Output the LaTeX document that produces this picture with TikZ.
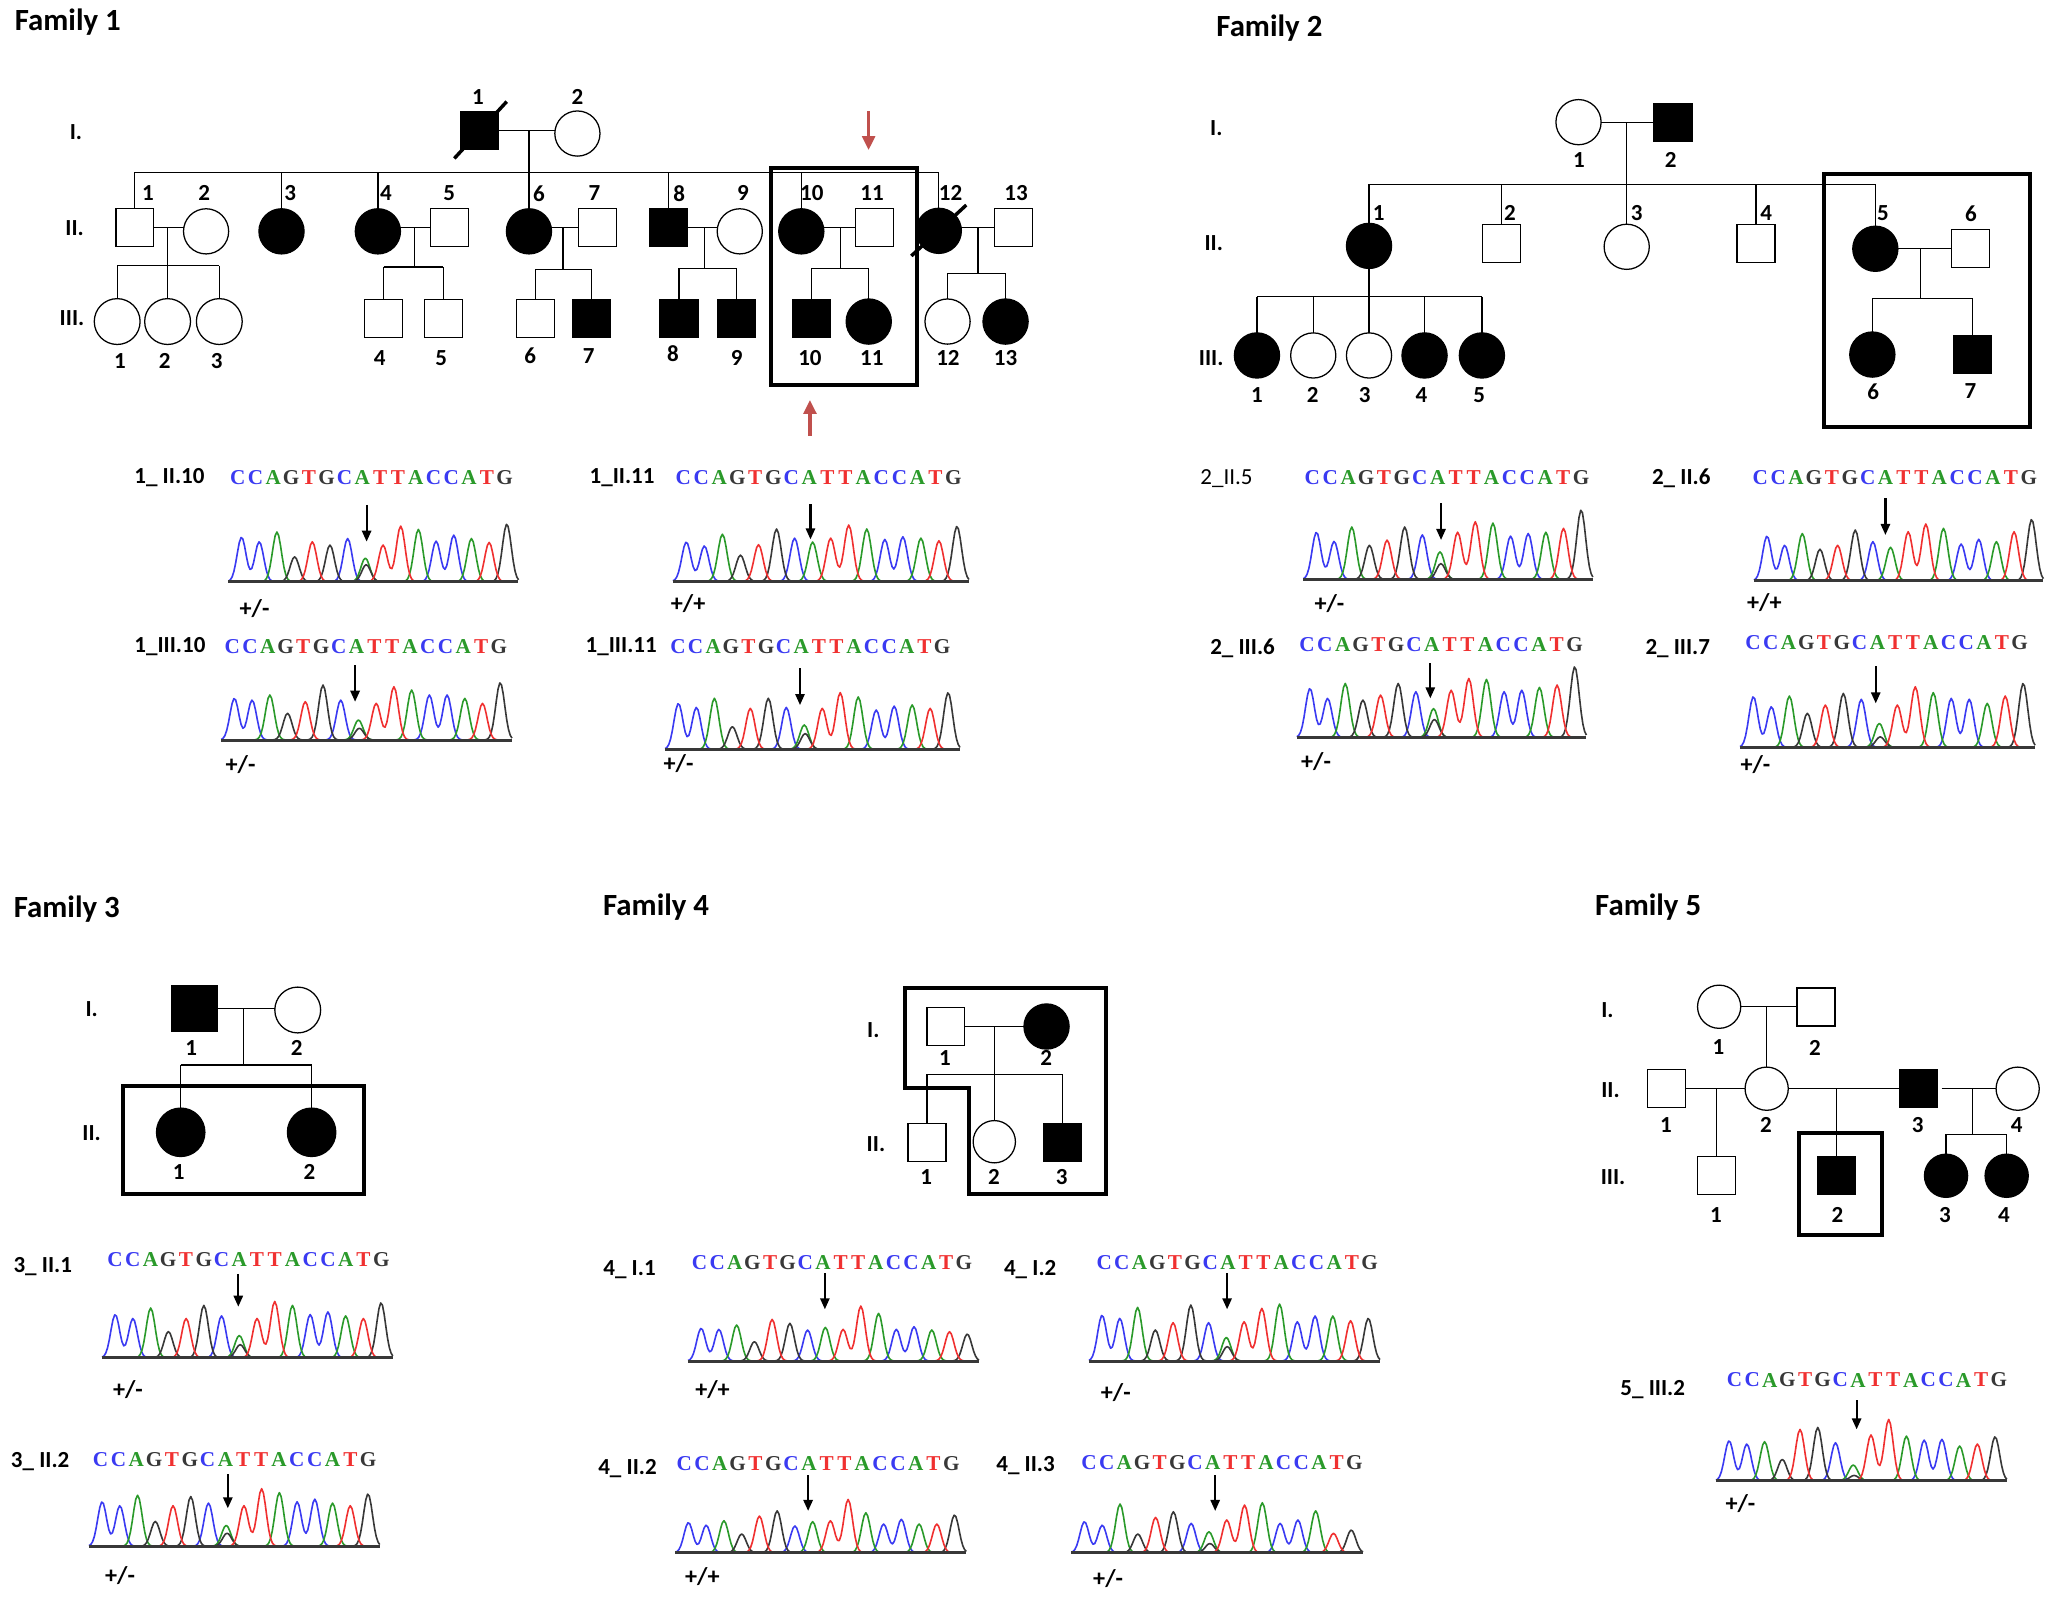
\documentclass[tikz,border=0pt]{standalone}
\usepackage{fontspec}
\setmainfont{Carlito}
\newfontfamily\seqfont{Liberation Serif}
\usetikzlibrary{arrows.meta}
\definecolor{trC}{HTML}{3A3AF2}
\definecolor{trA}{HTML}{2A9A2A}
\definecolor{trG}{HTML}{383838}
\definecolor{trT}{HTML}{F03030}
\definecolor{redmk}{HTML}{C0504D}
\def\upx{0.02cm}
\tikzset{
  declare function={g(\t)=exp(-7.8*\t*\t);},
  ped/.style={draw=black, line width=0.55pt, inner sep=0pt, outer sep=0pt},
  male/.style={ped, rectangle, minimum size=29*\upx, fill=white},
  female/.style={ped, circle, minimum size=34.5*\upx, fill=white},
  aff/.style={fill=black},
  relline/.style={line width=0.55pt},
  famlabel/.style={font=\bfseries\fontsize{13.4}{14}\selectfont, anchor=west, inner sep=0pt},
  genlabel/.style={font=\bfseries\fontsize{10}{10}\selectfont, inner sep=0pt},
  num/.style={font=\bfseries\fontsize{10}{10}\selectfont, inner sep=0pt},
  hlbox/.style={line width=1.7pt},
  smplabel/.style={font=\bfseries\fontsize{10}{10}\selectfont, anchor=west, inner sep=0pt},
  smpthin/.style={font=\fontsize{10}{10}\selectfont, anchor=west, inner sep=0pt},
  geno/.style={font=\bfseries\fontsize{10.5}{10}\selectfont, anchor=west, inner sep=0pt},
  seqletter/.style={font=\seqfont\bfseries\fontsize{9.2}{9}\selectfont, inner sep=0pt},
  mutarrow/.style={line width=0.95pt, -{Triangle[length=4.8pt,width=4pt]}},
  redmark/.style={line width=1.4pt, draw=redmk, -{Triangle[length=6pt,width=5.5pt]}},
  deceased/.style={line width=1.5pt},
  trc/.style={line width=0.7pt, line join=round},
  basel/.style={line width=1.3pt, draw=trG},
}
\newcommand\setpeaks[2]{%
  \def\harr{{#1}}%
  \foreach \k/\nm in {0/A,1/B,2/C,3/D,4/E,5/F,6/G,7/H,8/I,9/J,10/K,11/L,12/M,13/N,14/O,15/P}{%
    \pgfmathparse{\harr[\k]}%
    \expandafter\xdef\csname chr\nm\endcsname{\pgfmathresult}}%
  \xdef\chrX{#2}}
\newcommand\chromat[3]{%
  \pgfmathsetmacro\chP{(#2-(#1))/16.4}%
  \pgfmathsetmacro\chO{#1+0.74*\chP}%
  \def\chY{#3}%
  \draw[trc,trC] plot[domain=-0.74:1.9,samples=27] ({\chO+\x*\chP},{\chY-\chrA*g(\x)-\chrB*g(\x-1)});
  \draw[trc,trC] plot[domain=5:7,samples=21] ({\chO+\x*\chP},{\chY-\chrG*g(\x-6)});
  \draw[trc,trC] plot[domain=10:13.1,samples=32] ({\chO+\x*\chP},{\chY-\chrL*g(\x-11)-\chrM*g(\x-12)});
  \draw[trc,trA] plot[domain=1:3,samples=21] ({\chO+\x*\chP},{\chY-\chrC*g(\x-2)});
  \draw[trc,trA] plot[domain=6:8,samples=21] ({\chO+\x*\chP},{\chY-\chrH*g(\x-7)});
  \draw[trc,trA] plot[domain=9:11,samples=21] ({\chO+\x*\chP},{\chY-\chrK*g(\x-10)});
  \draw[trc,trA] plot[domain=12:14,samples=21] ({\chO+\x*\chP},{\chY-\chrN*g(\x-13)});
  \draw[trc,trG] plot[domain=2:4,samples=21] ({\chO+\x*\chP},{\chY-\chrD*g(\x-3)});
  \draw[trc,trG] plot[domain=4:6,samples=21] ({\chO+\x*\chP},{\chY-\chrF*g(\x-5)});
  \draw[trc,trG] plot[domain=6.05:8.05,samples=21] ({\chO+\x*\chP},{\chY-\chrX*g(\x-7.05)});
  \draw[trc,trG] plot[domain=14:15.66,samples=18] ({\chO+\x*\chP},{\chY-\chrP*g(\x-15)});
  \draw[trc,trT] plot[domain=3:5,samples=21] ({\chO+\x*\chP},{\chY-\chrE*g(\x-4)});
  \draw[trc,trT] plot[domain=7:10,samples=31] ({\chO+\x*\chP},{\chY-\chrI*g(\x-8)-\chrJ*g(\x-9)});
  \draw[trc,trT] plot[domain=13:15,samples=21] ({\chO+\x*\chP},{\chY-\chrO*g(\x-14)});
  \draw[basel] (#1,#3) -- (#2,#3);
}
\newcommand\seqtext[4]{%
  \foreach \bs [count=\i from 0] in {C,C,A,G,T,G,C,A,T,T,A,C,C,A,T,G}{%
    \node[seqletter, text=tr\bs] (#1s\i) at ({#2+4.8+\i*(#3-#2-9.6)/15},#4) {\bs};}}
\newcommand\mutarr[4]{%
  \coordinate (#1a) at (#2,#3); \coordinate (#1b) at (#2,#4);
  \draw[mutarrow] (#1a) -- (#1b);}
\begin{document}
\begin{tikzpicture}[x=0.02cm,y=-0.02cm]
\fill[white] (0,0) rectangle (1568,1219);
\useasboundingbox (0,0) rectangle (1568,1219);

% ================= FAMILY 1 =================
\node[famlabel] (f1) at (11,17) {Family 1};
\node[genlabel] (f1gI) at (58,101) {I.};
\node[genlabel] (f1gII) at (57,174) {II.};
\node[genlabel] (f1gIII) at (55,243) {III.};
\node[male,aff] (f1I1) at (366.5,99.6) {};
\node[female] (f1I2) at (441,102) {};
\node[num] (f1I1n) at (365,74) {1};
\node[num] (f1I2n) at (441,74) {2};
\draw[relline] (f1I1.east) -- (f1I1.east -| f1I2.west);
\coordinate (f1m1) at (404,99.6);
\coordinate (f1s1) at (404,131.5);
\draw[relline] (f1m1) -- (f1s1);
\node[male] (f1II1) at (103,173.7) {};
\node[female] (f1II2) at (157.4,176.7) {};
\node[female,aff] (f1II3) at (215,176.7) {};
\node[female,aff] (f1II4) at (288.6,176.7) {};
\node[male] (f1II5) at (343.4,173.7) {};
\node[female,aff] (f1II6) at (404,176.7) {};
\node[male] (f1II7) at (456.5,173.7) {};
\node[male,aff] (f1II8) at (510.5,173.7) {};
\node[female] (f1II9) at (565,176.7) {};
\node[female,aff] (f1II10) at (612,176.7) {};
\node[male] (f1II11) at (668,173.7) {};
\node[female,aff] (f1II12) at (717,176.3) {};
\node[male] (f1II13) at (774,173.7) {};
\foreach \n/\xx in {1/113,2/156,3/221.6,4/294.7,5/343,6/411.6,7/454,8/518.7,9/567.5,10/620,11/666,12/726,13/776}
  {\node[num] (f1IIn\n) at (\xx,147.6) {\n};}
\draw[relline] (f1II1.north |- f1s1) -- (f1II12.north |- f1s1);
\foreach \c in {f1II1,f1II3,f1II4,f1II6,f1II8,f1II10,f1II12}
  {\draw[relline] (\c.north |- f1s1) -- (\c.north);}
\draw[relline] (f1II1.east) -- (f1II1.east -| f1II2.west);
\draw[relline] (f1II5.west -| f1II4.east) -- (f1II5.west);
\draw[relline] (f1II7.west -| f1II6.east) -- (f1II7.west);
\draw[relline] (f1II8.east) -- (f1II8.east -| f1II9.west);
\draw[relline] (f1II11.west -| f1II10.east) -- (f1II11.west);
\draw[relline] (f1II13.west -| f1II12.east) -- (f1II13.west);
% III row
\node[female,minimum size=35*\upx] (f1III1) at (89.5,245.6) {};
\node[female,minimum size=35*\upx] (f1III2) at (128,245.6) {};
\node[female,minimum size=35*\upx] (f1III3) at (167.5,245.6) {};
\node[male] (f1III4) at (293,243) {};
\node[male] (f1III5) at (338.6,243) {};
\node[male] (f1III6) at (409,243) {};
\node[male,aff] (f1III7) at (451.5,243) {};
\node[male,aff] (f1III8) at (518.6,243) {};
\node[male,aff] (f1III9) at (562.6,243) {};
\node[male,aff] (f1III10) at (619.6,243) {};
\node[female,aff] (f1III11) at (663.5,245.6) {};
\node[female] (f1III12) at (723.7,245.6) {};
\node[female,aff] (f1III13) at (768,245.6) {};
\foreach \n/\xx/\yy in {1/91.6/276,2/125.7/276,3/165.6/276,4/290/273.7,5/337/273.7,6/405/272,7/449.6/272,8/514/270,9/562.6/273.7,10/618.6/273.7,11/665.8/273.7,12/724/273.6,13/768/273.6}
  {\node[num] (f1IIIn\n) at (\xx,\yy) {\n};}
% sibships
\coordinate (f1m2) at (128,173.7); \coordinate (f1s2) at (128,203);
\draw[relline] (f1m2) -- (f1s2);
\draw[relline] (f1III1.north |- f1s2) -- (f1III3.north |- f1s2);
\foreach \c in {f1III1,f1III2,f1III3}{\draw[relline] (\c.north |- f1s2) -- (\c.north);}
\coordinate (f1m3) at (316.6,173.7); \coordinate (f1s3) at (316.6,204);
\draw[relline] (f1m3) -- (f1s3);
\draw[relline] (f1III4.north |- f1s3) -- (f1III5.north |- f1s3);
\foreach \c in {f1III4,f1III5}{\draw[relline] (\c.north |- f1s3) -- (\c.north);}
\coordinate (f1m4) at (430,173.7); \coordinate (f1s4) at (430,205.7);
\draw[relline] (f1m4) -- (f1s4);
\draw[relline] (f1III6.north |- f1s4) -- (f1III7.north |- f1s4);
\foreach \c in {f1III6,f1III7}{\draw[relline] (\c.north |- f1s4) -- (\c.north);}
\coordinate (f1m5) at (538,173.7); \coordinate (f1s5) at (538,205);
\draw[relline] (f1m5) -- (f1s5);
\draw[relline] (f1III8.north |- f1s5) -- (f1III9.north |- f1s5);
\foreach \c in {f1III8,f1III9}{\draw[relline] (\c.north |- f1s5) -- (\c.north);}
\coordinate (f1m6) at (642,173.7); \coordinate (f1s6) at (642,205);
\draw[relline] (f1m6) -- (f1s6);
\draw[relline] (f1III10.north |- f1s6) -- (f1III11.north |- f1s6);
\foreach \c in {f1III10,f1III11}{\draw[relline] (\c.north |- f1s6) -- (\c.north);}
\coordinate (f1m7) at (747,173.7); \coordinate (f1s7) at (747,208.8);
\draw[relline] (f1m7) -- (f1s7);
\draw[relline] (f1III12.north |- f1s7) -- (f1III13.north |- f1s7);
\foreach \c in {f1III12,f1III13}{\draw[relline] (\c.north |- f1s7) -- (\c.north);}
% deceased marks
\coordinate (f1d1a) at (347,121); \coordinate (f1d1b) at (387,77.6);
\draw[deceased] (f1d1a) -- (f1d1b);
\coordinate (f1d2a) at (696,195.5); \coordinate (f1d2b) at (738,156.6);
\draw[deceased] (f1d2a) -- (f1d2b);
% box and arrows
\draw[hlbox] (589,128.6) rectangle (700.4,294);
\coordinate (f1ra) at (663.4,85); \coordinate (f1rb) at (663.4,114.6);
\draw[redmark] (f1ra) -- (f1rb);
\coordinate (f1rc) at (618.6,333); \coordinate (f1rd) at (618.6,305.5);
\draw[redmark] (f1rc) -- (f1rd);

% ---- Family 1 chromatograms
\node[smplabel] (c1l) at (102.3,365) {1\_ II.10};
\seqtext{c1}{176.8}{390.2}{365}
\mutarr{c1}{280}{385.7}{413.7}
\setpeaks{34,30.5,38,19,30.5,28,33,18,28,42.5,40,31,35.6,33,30,44}{13}
\chromat{174.5}{396}{444.3}
\node[geno] (c1g) at (182.7,464.6) {+/-};

\node[smplabel] (c2l) at (450,365) {1\_II.11};
\seqtext{c2}{517}{733}{365}
\mutarr{c2}{619}{385}{412}
\setpeaks{30,27,36,20,28,40,33,30,33,43,40,32,34,33,31,42}{0}
\chromat{514}{740}{444}
\node[geno] (c2g) at (512,461) {+/+};

\node[smplabel] (c3l) at (102.3,494) {1\_III.10};
\seqtext{c3}{172.5}{385.8}{494}
\mutarr{c3}{271.2}{508}{536}
\setpeaks{31.8,30.5,34.4,20.4,29.3,42,30.5,15.3,28,40.7,38.2,34.4,34.4,31.8,28,43.8}{9}
\chromat{169}{391}{565.2}
\node[geno] (c3g) at (172,584) {+/-};

\node[smplabel] (c4l) at (447,494) {1\_III.11};
\seqtext{c4}{513}{724.3}{494}
\mutarr{c4}{611}{510.5}{538.5}
\setpeaks{35,32,39,17.3,31.3,39,32,18.6,31.3,43.3,40,30,33,33.9,31.3,43.3}{12}
\chromat{508}{733.2}{572.3}
\node[geno] (c4g) at (506.5,583) {+/-};

% ================= FAMILY 2 =================
\node[famlabel] (f2) at (928.7,21.6) {Family 2};
\node[genlabel] (f2gI) at (929,98) {I.};
\node[genlabel] (f2gII) at (927,186) {II.};
\node[genlabel] (f2gIII) at (925,273.5) {III.};
\node[female] (f2I1) at (1205.6,93.3) {};
\node[male,aff] (f2I2) at (1277.8,93.5) {};
\node[num] (f2I1n) at (1206,122) {1};
\node[num] (f2I2n) at (1276,122) {2};
\draw[relline] (f2I1.east) -- (f2I1.east -| f2I2.west);
\coordinate (f2m1) at (1242.4,93.3); \coordinate (f2s1) at (1242.4,140.8);
\draw[relline] (f2m1) -- (f2s1);
\node[female,aff] (f2II1) at (1045.6,187.8) {};
\node[male] (f2II2) at (1146.7,186) {};
\node[female] (f2II3) at (1242.4,188.5) {};
\node[male] (f2II4) at (1341.2,186) {};
\node[female,aff] (f2II5) at (1432.3,190) {};
\node[male] (f2II6) at (1505,189.6) {};
\foreach \n/\xx in {1/1053,2/1153.3,3/1250,4/1349,5/1438.2,6/1505.3}
  {\node[num] (f2IIn\n) at (\xx,163) {\n};}
\draw[relline] (f2II1.north |- f2s1) -- (f2II5.north |- f2s1);
\foreach \c in {f2II1,f2II2,f2II3,f2II4,f2II5}{\draw[relline] (\c.north |- f2s1) -- (\c.north);}
\draw[relline] (f2II5.east) -- (f2II5.east -| f2II6.west);
% III
\node[female,aff] (f2III1) at (960,271.5) {};
\node[female] (f2III2) at (1003,271.5) {};
\node[female] (f2III3) at (1045.6,271.5) {};
\node[female,aff] (f2III4) at (1088,271.5) {};
\node[female,aff] (f2III5) at (1131.8,271.5) {};
\node[female,aff] (f2III6) at (1430,270.8) {};
\node[male,aff] (f2III7) at (1506.4,271) {};
\foreach \n/\xx/\yy in {1/960/301.7,2/1002.6/301.7,3/1042.2/301.7,4/1085.7/301.7,5/1129.8/301.7,6/1430.6/299,7/1505/299}
  {\node[num] (f2IIIn\n) at (\xx,\yy) {\n};}
\coordinate (f2s2) at (1045.6,226.6);
\draw[relline] (f2II1.south) -- (f2s2);
\draw[relline] (f2III1.north |- f2s2) -- (f2III5.north |- f2s2);
\foreach \c in {f2III1,f2III2,f2III3,f2III4,f2III5}{\draw[relline] (\c.north |- f2s2) -- (\c.north);}
\coordinate (f2m3) at (1467,190); \coordinate (f2s3) at (1467,227.8);
\draw[relline] (f2m3) -- (f2s3);
\draw[relline] (f2III6.north |- f2s3) -- (f2III7.north |- f2s3);
\foreach \c in {f2III6,f2III7}{\draw[relline] (\c.north |- f2s3) -- (\c.north);}
\draw[hlbox] (1393,132.9) rectangle (1550.6,325.9);

% ---- Family 2 chromatograms
\node[smpthin] (c5l) at (916.5,365.3) {2\_II.5};
\seqtext{c5}{997.5}{1212.4}{365}
\mutarr{c5}{1100.6}{384.4}{412.4}
\setpeaks{36,29,40,26,30,40,34,21,36,44,43,33,35,36,39,53}{12}
\chromat{995.5}{1216.5}{442.5}
\node[geno] (c5g) at (1003.6,460.8) {+/-};

\node[smplabel] (c6l) at (1261.4,365) {2\_ II.6};
\seqtext{c6}{1339.6}{1554.3}{365}
\mutarr{c6}{1440}{380.5}{408.6}
\setpeaks{34,27,36,24,27,38.7,29.8,25.5,37.4,43.3,40,28,31.6,29.8,37.4,46.8}{0}
\chromat{1339.6}{1560.6}{443.5}
\node[geno] (c6g) at (1334,460) {+/+};

\node[smplabel] (c7l) at (924,495.2) {2\_ III.6};
\seqtext{c7}{993.4}{1207.4}{492.6}
\mutarr{c7}{1092.4}{506.6}{533.4}
\setpeaks{37.4,29.8,41.2,28.5,32.3,41.2,34.9,22,36,45,44.3,34.9,36,38.2,40,54}{13.7}
\chromat{990.5}{1211.6}{563.2}
\node[geno] (c7g) at (993.4,581.7) {+/-};

\node[smplabel] (c8l) at (1256.4,495) {2\_ III.7};
\seqtext{c8}{1334}{1547.3}{491}
\mutarr{c8}{1432.6}{508.7}{537.2}
\setpeaks{38.7,31,39.2,26,32.3,41.2,36.7,18.3,32.3,46.3,41.8,37.4,36.7,33.6,39.2,48.9}{8}
\chromat{1329}{1554.3}{570.8}
\node[geno] (c8g) at (1329,584.3) {+/-};

% ================= FAMILY 3 =================
\node[famlabel] (f3) at (10.2,694) {Family 3};
\node[genlabel] (f3gI) at (70,771) {I.};
\node[genlabel] (f3gII) at (70,865.6) {II.};
\node[male,aff,minimum size=35*\upx] (f3I1) at (148.7,770.5) {};
\node[female,minimum size=35*\upx] (f3I2) at (227.4,771.4) {};
\node[num] (f3I1n) at (146,800.7) {1};
\node[num] (f3I2n) at (226.7,800.7) {2};
\draw[relline] (f3I1.east) -- (f3I1.east -| f3I2.west);
\coordinate (f3m1) at (185.8,770.5); \coordinate (f3s1) at (185.8,813.4);
\draw[relline] (f3m1) -- (f3s1);
\node[female,aff,minimum size=37*\upx] (f3II1) at (138,864.8) {};
\node[female,aff,minimum size=37*\upx] (f3II2) at (238,864.8) {};
\node[num] (f3II1n) at (136.4,894.9) {1};
\node[num] (f3II2n) at (236.3,894.9) {2};
\draw[relline] (f3II1.north |- f3s1) -- (f3II2.north |- f3s1);
\foreach \c in {f3II1,f3II2}{\draw[relline] (\c.north |- f3s1) -- (\c.north);}
\draw[hlbox] (93.8,829.5) rectangle (277.9,912);

\node[smplabel] (c9l) at (10,967) {3\_ II.1};
\seqtext{c9}{83}{296}{962}
\mutarr{c9}{182}{973}{998}
\setpeaks{33,30,38,20,30,40,32,17,30,43,40,33,35,32,30,42}{10}
\chromat{78}{300}{1037}
\node[geno] (c9g) at (86,1061) {+/-};

\node[smplabel] (c10l) at (8,1116) {3\_ II.2};
\seqtext{c10}{72}{286}{1115}
\mutarr{c10}{174}{1126}{1152}
\setpeaks{34,31,39,19,31,38,33,16,31,44,41,34,36,33,31,40}{10}
\chromat{68}{290}{1181}
\node[geno] (c10g) at (80,1203) {+/-};

% ================= FAMILY 4 =================
\node[famlabel] (f4) at (460.3,693) {Family 4};
\node[genlabel] (f4gI) at (667,787) {I.};
\node[genlabel] (f4gII) at (669,874) {II.};
\node[male] (f4I1) at (722.4,784) {};
\node[female,aff] (f4I2) at (799.3,784) {};
\node[num] (f4I1n) at (721.8,808.3) {1};
\node[num] (f4I2n) at (799,808.3) {2};
\draw[relline] (f4I1.east) -- (f4I1.east -| f4I2.west);
\node[male] (f4II1) at (708,872.6) {};
\node[female,minimum size=32.3*\upx] (f4II2) at (759.4,872) {};
\node[male,aff] (f4II3) at (811.6,872.6) {};
\node[num] (f4II1n) at (707.3,898.7) {1};
\node[num] (f4II2n) at (759.2,898.7) {2};
\node[num] (f4II3n) at (810.9,898.7) {3};
\coordinate (f4m1) at (759.4,784);
\draw[relline] (f4m1) -- (f4II2.north);
\coordinate (f4s1) at (759.4,820.5);
\draw[relline] (f4II1.north |- f4s1) -- (f4II3.north |- f4s1);
\foreach \c in {f4II1,f4II3}{\draw[relline] (\c.north |- f4s1) -- (\c.north);}
\draw[hlbox] (691.2,754.9) -- (844.7,754.9) -- (844.7,912.2) -- (740,912.2) -- (740,830.7) -- (691.2,830.7) -- cycle;

\node[smplabel] (c11l) at (460.5,970) {4\_ I.1};
\seqtext{c11}{529.5}{741}{964}
\mutarr{c11}{630}{972.5}{1000}
\setpeaks{25,24.2,27.5,14.8,31.8,28.8,23.7,25.7,24.2,42,36.4,24.2,26.2,23.7,22.4,20.6}{0}
\chromat{525.5}{747.7}{1039.5}
\node[geno] (c11g) at (530.7,1061.6) {+/+};

\node[smplabel] (c12l) at (766.5,970) {4\_ I.2};
\seqtext{c12}{838.5}{1050.9}{964}
\mutarr{c12}{937.2}{972.5}{1000}
\setpeaks{35,32.6,41,23.7,29.3,42.8,29.3,18,30,40.2,43.5,30,34.4,34.4,30.8,32.6}{11}
\chromat{831.7}{1054}{1039.5}
\node[geno] (c12g) at (840.5,1063.4) {+/-};

\node[smplabel] (c13l) at (456.6,1122) {4\_ II.2};
\seqtext{c13}{517.8}{731.4}{1118}
\mutarr{c13}{617.2}{1126.6}{1154}
\setpeaks{23,21,24.4,14.3,28,32,20.4,23.7,24.4,40.7,30.5,21.9,25.5,21.9,21.9,28.8}{0}
\chromat{515.8}{738}{1185.9}
\node[geno] (c13g) at (522.9,1204.2) {+/+};

\node[smplabel] (c14l) at (760.6,1119) {4\_ II.3};
\seqtext{c14}{826.9}{1039.2}{1117}
\mutarr{c14}{928.1}{1126.6}{1154}
\setpeaks{23.7,21,37.2,14.3,27,31.3,22.4,16,25,36.4,38.2,22.4,25,32,14.8,17.3}{7}
\chromat{818.2}{1041}{1185.9}
\node[geno] (c14g) at (834.6,1205.5) {+/-};

% ================= FAMILY 5 =================
\node[famlabel] (f5) at (1218,693) {Family 5};
\node[genlabel] (f5gI) at (1227.7,771.4) {I.};
\node[genlabel] (f5gII) at (1230,832.5) {II.};
\node[genlabel] (f5gIII) at (1232,898.7) {III.};
\node[female,minimum size=33*\upx] (f5I1) at (1313,768.9) {};
\node[male] (f5I2) at (1386.9,769.1) {};
\node[num] (f5I1n) at (1312.4,799.4) {1};
\node[num] (f5I2n) at (1386.2,800.6) {2};
\draw[relline] (f5I1.east) -- (f5I1.east -| f5I2.west);
\node[male] (f5II1) at (1272.8,831.5) {};
\node[female,minimum size=33*\upx] (f5II2) at (1349.3,831.5) {};
\node[male,aff] (f5II3) at (1465.3,831.5) {};
\node[female,minimum size=33*\upx] (f5II4) at (1541,831.5) {};
\foreach \n/\xx in {1/1272.4,2/1348.8,3/1464.7,4/1540.3}{\node[num] (f5IIn\n) at (\xx,859.2) {\n};}
\coordinate (f5m1) at (1349.3,769.1);
\draw[relline] (f5m1) -- (f5II2.north);
\draw[relline] (f5II1.east) -- (f5II2.west);
\draw[relline] (f5II2.east) -- (f5II3.west);
\coordinate (f5II3r) at (1483,831.5);
\draw[relline] (f5II3r) -- (f5II4.west);
\node[male] (f5III1) at (1311,898) {};
\node[male,aff] (f5III2) at (1402.8,898) {};
\node[female,aff,minimum size=33*\upx] (f5III3) at (1486.3,898) {};
\node[female,aff,minimum size=33*\upx] (f5III4) at (1532.6,898) {};
\foreach \n/\xx in {1/1310.6,2/1403.3,3/1485.5,4/1530.6}{\node[num] (f5IIIn\n) at (\xx,928) {\n};}
\coordinate (f5m2) at (1311,831.5);
\draw[relline] (f5m2) -- (f5III1.north);
\coordinate (f5m3) at (1402.8,831.5);
\draw[relline] (f5m3) -- (f5III2.north);
\coordinate (f5m4) at (1506.7,831.5); \coordinate (f5s4) at (1506.7,866.4);
\draw[relline] (f5m4) -- (f5s4);
\draw[relline] (f5III3.north |- f5s4) -- (f5III4.north |- f5s4);
\foreach \c in {f5III3,f5III4}{\draw[relline] (\c.north |- f5s4) -- (\c.north);}
\draw[hlbox] (1374,865.6) rectangle (1437.2,943.3);

\node[smplabel] (c15l) at (1237.3,1061.6) {5\_ III.2};
\seqtext{c15}{1320}{1531.4}{1054}
\mutarr{c15}{1418}{1069.3}{1091.7}
\setpeaks{30.5,28,29.8,16.3,39.2,40.7,29,12,34.9,46.8,34.1,31,31.6,26.5,28,33.6}{4}
\chromat{1310.6}{1532.7}{1130.9}
\node[geno] (c15g) at (1317.5,1148.2) {+/-};
\end{tikzpicture}
\end{document}
